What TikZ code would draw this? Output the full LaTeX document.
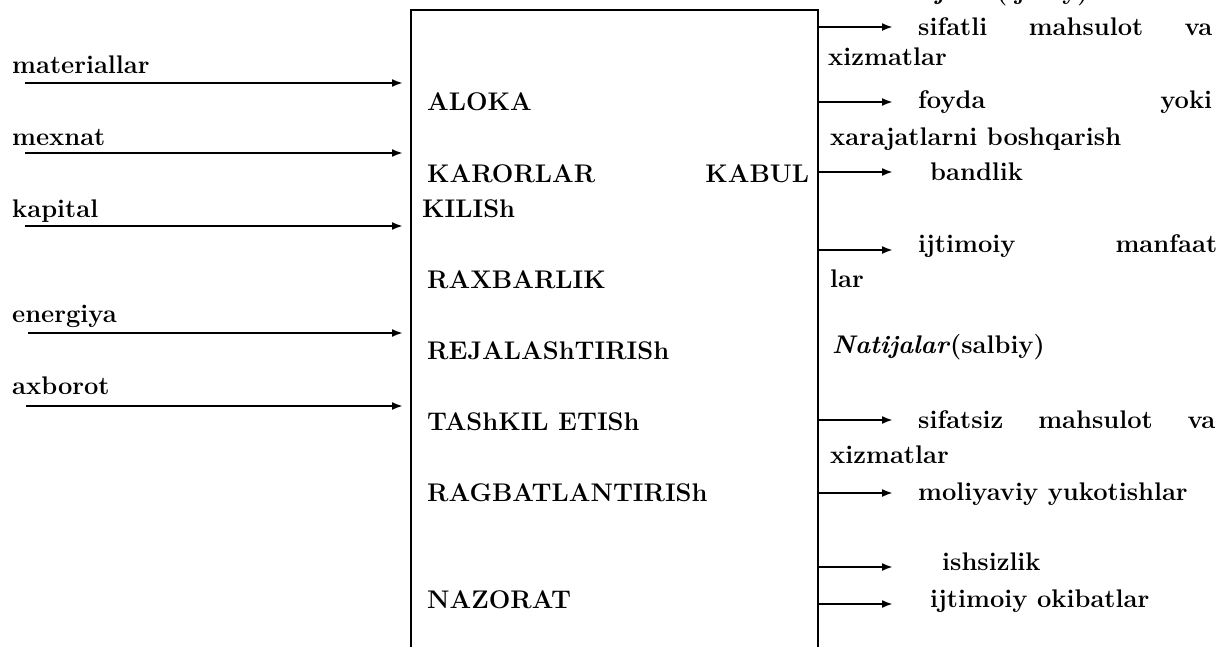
\documentclass[tikz,border=0pt]{standalone}
\usepackage{fontspec}
\setmainfont{Latin Modern Roman}
\usetikzlibrary{arrows.meta}
\begin{document}
\begin{tikzpicture}[x=1pt,y=-1pt,
  lbl/.style={anchor=base west, inner sep=0pt, font=\fontsize{25.5}{30}\selectfont\bfseries},
  arr/.style={line width=2pt, -{Latex[length=11pt,width=8pt]}},
  boxline/.style={line width=2pt}]
\useasboundingbox (0,0) rectangle (1223,646);
% box (open at bottom)
\coordinate (bl) at (411,660);
\coordinate (tl) at (411,10);
\coordinate (tr) at (818,10);
\coordinate (br) at (818,660);
\draw[boxline] (bl) -- (tl) -- (tr) -- (br);
% inputs
\node[lbl] (lm) at (12,73) {materiallar};
\node[lbl] (lx) at (12,145) {mexnat};
\node[lbl] (lk) at (12,217) {kapital};
\node[lbl] (le) at (12,322) {energiya};
\node[lbl] (la) at (12,394) {axborot};
\coordinate (s1) at (25,83);  \coordinate (e1) at (403,83);
\coordinate (s2) at (25,153); \coordinate (e2) at (403,153);
\coordinate (s3) at (25,226); \coordinate (e3) at (403,226);
\coordinate (s4) at (28,333); \coordinate (e4) at (403,333);
\coordinate (s5) at (26,406); \coordinate (e5) at (403,406);
\draw[arr] (s1) -- (e1);
\draw[arr] (s2) -- (e2);
\draw[arr] (s3) -- (e3);
\draw[arr] (s4) -- (e4);
\draw[arr] (s5) -- (e5);
% box contents
\node[lbl] (b1) at (427,110) {ALOKA};
\node[lbl] (b2) at (427,182) {\makebox[382pt][l]{KARORLAR\hfill KABUL}};
\node[lbl] (b2b) at (422,217) {KILISh};
\node[lbl] (b3) at (427,288) {RAXBARLIK};
\node[lbl] (b4) at (427,359) {REJALAShTIRISh};
\node[lbl] (b5) at (427,430) {TAShKIL ETISh};
\node[lbl] (b6) at (427,501) {RAGBATLANTIRISh};
\node[lbl] (b7) at (427,608) {NAZORAT};
% outputs
\foreach \i/\yy in {1/27,2/102,3/172,4/250,5/420,6/493,7/567,8/604}{
  \coordinate (o\i) at (818,\yy);
  \coordinate (t\i) at (893,\yy);
  \draw[arr] (o\i) -- (t\i);
}
\node[lbl] (np) at (878,-1) {\textit{Natijalar}(ijobiy)};
\node[lbl] (r1) at (918,35) {\makebox[294pt][l]{sifatli\hfill mahsulot\hfill va}};
\node[lbl] (r1b) at (828,65) {xizmatlar};
\node[lbl] (r2) at (918,108) {\makebox[294pt][l]{foyda\hfill yoki}};
\node[lbl] (r2b) at (830,145) {xarajatlarni boshqarish};
\node[lbl] (r3) at (930,180) {bandlik};
\node[lbl] (r4) at (918,252) {\makebox[299pt][l]{ijtimoiy\hfill manfaat}};
\node[lbl] (r4b) at (830,287) {lar};
\node[lbl] (ns) at (832,353) {\textit{Natijalar}(salbiy)};
\node[lbl] (r5) at (918,428) {\makebox[297pt][l]{sifatsiz\hfill mahsulot\hfill va}};
\node[lbl] (r5b) at (830,463) {xizmatlar};
\node[lbl] (r6) at (918,500) {moliyaviy yukotishlar};
\node[lbl] (r7) at (942,570) {ishsizlik};
\node[lbl] (r8) at (930,607) {ijtimoiy okibatlar};
\end{tikzpicture}
\end{document}
